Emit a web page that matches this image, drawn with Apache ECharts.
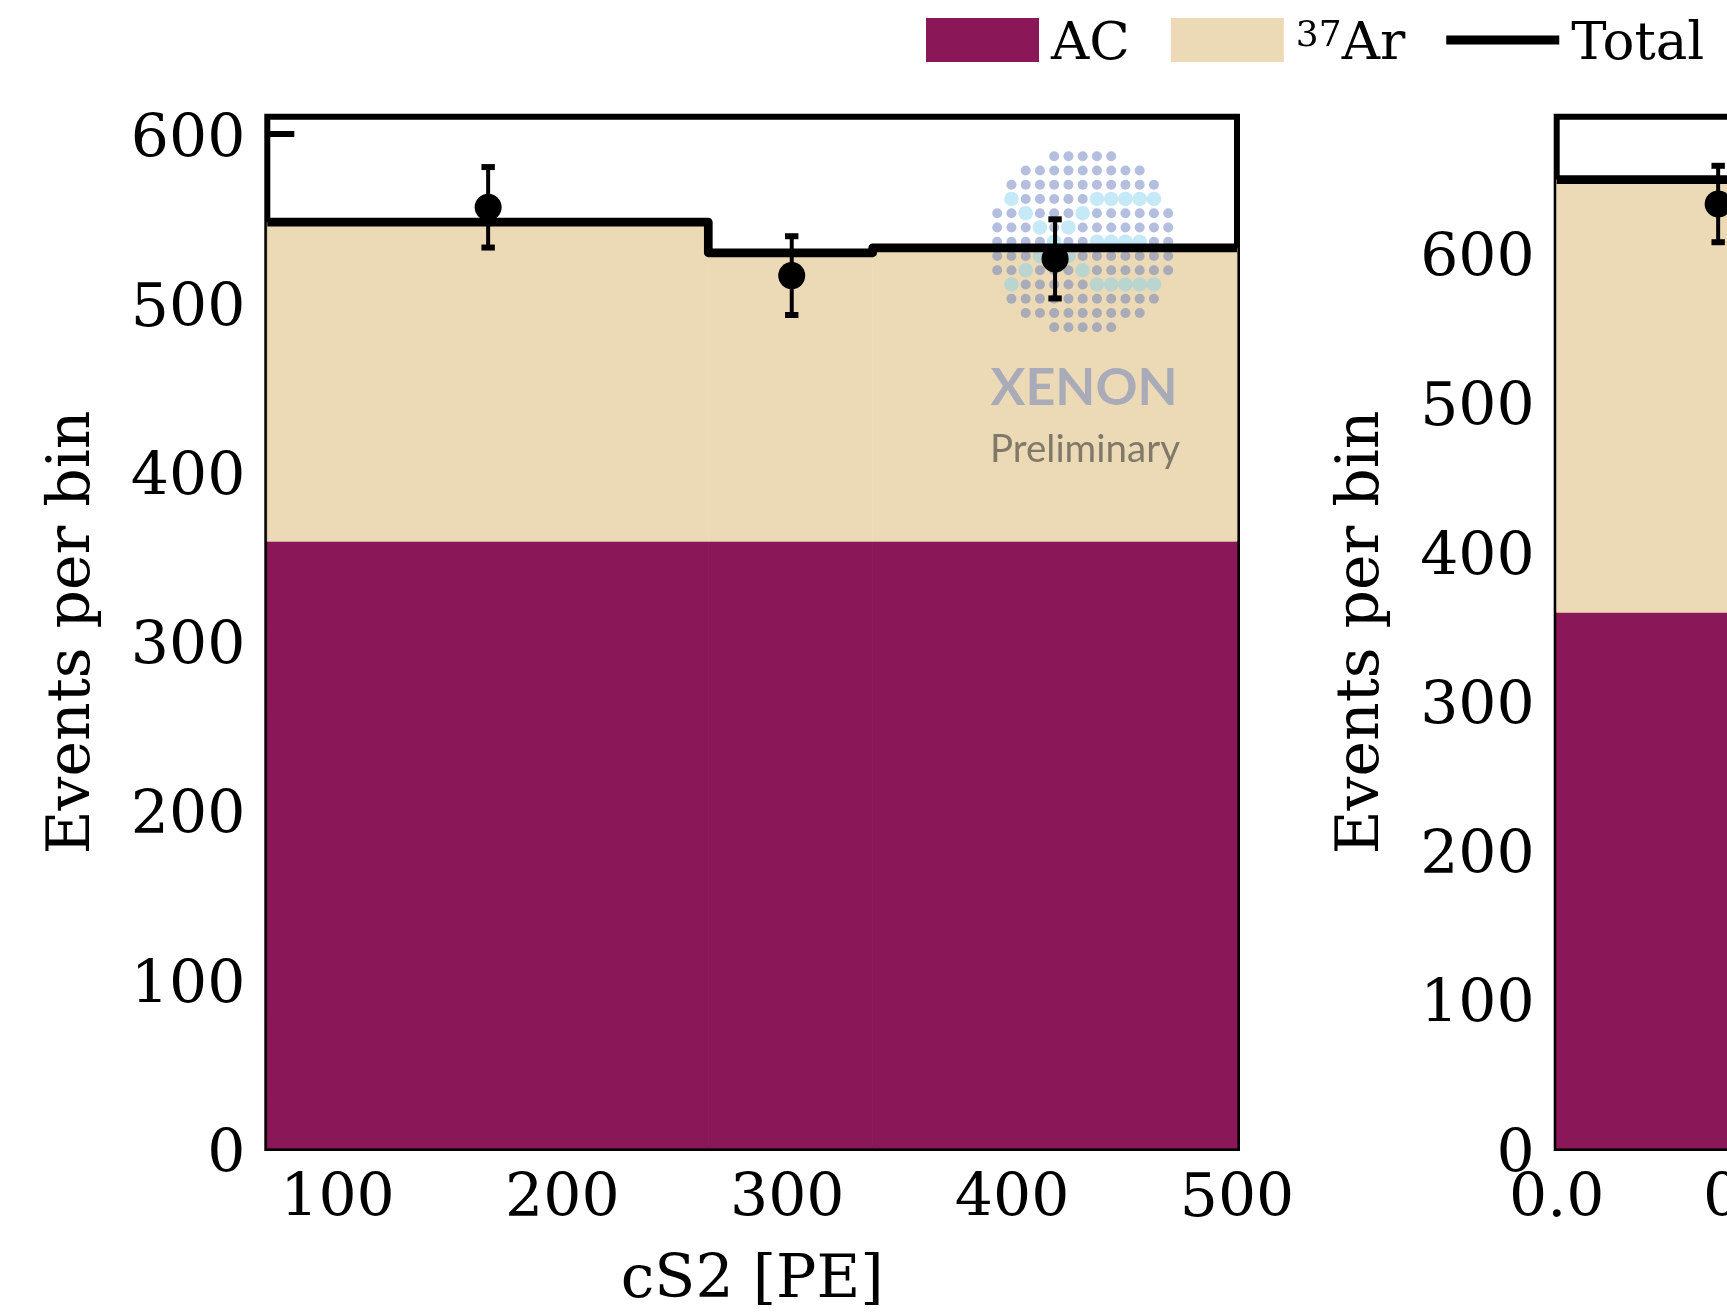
<!DOCTYPE html>
<html><head><meta charset="utf-8">
<script src="https://cdn.jsdelivr.net/npm/echarts@6/dist/echarts.min.js"></script>
<style>html,body{margin:0;padding:0;background:#fff}#chart{width:1727px;height:1316px}</style>
</head><body><div id="chart"></div>
<script>
// ---------- left panel: cS2 [PE] ----------
const cs2BinEdges = [68.8, 264.9, 338.0, 500];
const cs2AC       = [358.9, 358.9, 358.9];
const cs2Ar37     = [188.7, 170.6, 173.5];
const cs2DataX    = [167.0, 302.0, 419.1];
const cs2DataY    = [556.4, 516.0, 525.9];
const cs2DataErr  = [23.8, 23.3, 23.4];
const cs2TickLabels = [100, 200, 300, 400, 500];
const cs2CountMax = 610;

// ---------- right panel (cut off) ----------
const rBinEdges = [0.0, 0.333];
const rAC       = [358.9];
const rAr37     = [289.9];
const rDataX    = [0.1665];
const rDataY    = [632.5];
const rDataErr  = [25.6];
const rTickLabels = [0.0, 0.2, 0.4, 0.6, 0.8, 1.0];
const rCountMax = 691;

const countTickLabels = [0, 100, 200, 300, 400, 500, 600];

// ---------- watermark logo pattern ----------
const logoRowCounts = [5, 9, 11, 11, 13, 13, 13, 13, 13, 11, 11, 9, 5];
const logoHighlight = {3: [1, 7, 8, 9, 10, 11], 4: [2, 6], 5: [3, 5], 6: [4, 7, 8, 9, 10], 7: [3, 5], 8: [2, 6], 9: [1, 7, 8, 9, 10, 11]};

const FONT = 'DejaVu Serif';
const AC_COLOR = '#8A1858';
const AR_COLOR = '#ECDAB6';

function rectRender(params, api) {
  const p0 = api.coord([api.value(0), api.value(3)]);
  const p1 = api.coord([api.value(1), api.value(2)]);
  const c = api.visual('color');
  return {type: 'rect', shape: {x: p0[0], y: p0[1], width: p1[0] - p0[0], height: p1[1] - p0[1]},
          style: {fill: c, stroke: c, lineWidth: 0.8}};
}
function errRender(params, api) {
  const x = api.value(0), y = api.value(1), e = api.value(2);
  const t = api.coord([x, y + e]), b = api.coord([x, y - e]);
  const cw = 6.7;
  return {type: 'group', children: [
    {type: 'line', shape: {x1: t[0], y1: t[1], x2: b[0], y2: b[1]}, style: {stroke: '#000', lineWidth: 4}},
    {type: 'line', shape: {x1: t[0] - cw, y1: t[1], x2: t[0] + cw, y2: t[1]}, style: {stroke: '#000', lineWidth: 6}},
    {type: 'line', shape: {x1: b[0] - cw, y1: b[1], x2: b[0] + cw, y2: b[1]}, style: {stroke: '#000', lineWidth: 6}}
  ]};
}

function panelSeries(idx, edges, ac, ar, dx, dy, derr) {
  const acData = ac.map((v, i) => [edges[i], edges[i + 1], 0, v]);
  const arData = ar.map((v, i) => [edges[i], edges[i + 1], ac[i], ac[i] + v]);
  const totals = ac.map((v, i) => v + ar[i]);
  const lineData = totals.map((v, i) => [edges[i], v]);
  lineData.push([edges[edges.length - 1], totals[totals.length - 1]]);
  const pts = dx.map((x, i) => [x, dy[i], derr[i]]);
  return [
    {name: 'AC', type: 'custom', xAxisIndex: idx, yAxisIndex: idx, renderItem: rectRender,
     itemStyle: {color: AC_COLOR}, encode: {x: [0, 1], y: [2, 3]}, data: acData, z: 2},
    {name: '37Ar', type: 'custom', xAxisIndex: idx, yAxisIndex: idx, renderItem: rectRender,
     itemStyle: {color: AR_COLOR}, encode: {x: [0, 1], y: [2, 3]}, data: arData, z: 2},
    {name: 'Total', type: 'line', xAxisIndex: idx, yAxisIndex: idx, step: 'end', symbol: 'none',
     lineStyle: {color: '#000', width: 8.7, join: 'round', cap: 'butt'}, itemStyle: {color: '#000'},
     data: lineData, z: 4},
    {name: 'data_err', type: 'custom', xAxisIndex: idx, yAxisIndex: idx, renderItem: errRender,
     encode: {x: 0, y: 1}, data: pts, z: 5},
    {name: 'data', type: 'scatter', xAxisIndex: idx, yAxisIndex: idx, symbol: 'circle', symbolSize: 27,
     itemStyle: {color: '#000', opacity: 1}, data: pts.map(p => [p[0], p[1]]), z: 6}
  ];
}

function xAxisCfg(idx, min, max, ticks, fmt) {
  return {type: 'value', gridIndex: idx, min: min, max: max,
    axisLine: {show: false}, splitLine: {show: false},
    axisTick: {show: true, inside: true, length: 27, customValues: ticks, lineStyle: {color: '#000', width: 6}},
    axisLabel: {customValues: ticks, margin: 22, fontFamily: FONT, fontSize: 60, color: '#000', formatter: fmt},
    name: idx === 0 ? 'cS2 [PE]' : '', nameLocation: 'middle', nameGap: 103,
    nameTextStyle: {fontFamily: FONT, fontSize: 60, color: '#000'}};
}
function yAxisCfg(idx, max) {
  return {type: 'value', gridIndex: idx, min: 0, max: max,
    axisLine: {show: false}, splitLine: {show: false},
    axisTick: {show: true, inside: true, length: 27, customValues: countTickLabels, lineStyle: {color: '#000', width: 6}},
    axisLabel: {customValues: countTickLabels, margin: 22, verticalAlign: 'top', lineHeight: 16,
                fontFamily: FONT, fontSize: 60, color: '#000'},
    name: 'Events per bin', nameLocation: 'middle', nameRotate: 90, nameGap: 164,
    nameTextStyle: {fontFamily: FONT, fontSize: 60, color: '#000'}};
}

// logo graphic (watermark)
const logoCx = 1082.7, logoCy = 241.7, logoStep = 14.25;
const logoEls = [];
logoRowCounts.forEach((n, r) => {
  const c0 = (13 - n) / 2;
  for (let c = c0; c < c0 + n; c++) {
    const hi = (logoHighlight[r] || []).indexOf(c) >= 0;
    logoEls.push({type: 'circle', z: 3, silent: true,
      shape: {cx: logoCx + (c - 6) * logoStep, cy: logoCy + (r - 6) * logoStep, r: hi ? 7.3 : 5},
      style: {fill: hi ? 'rgba(127,206,237,0.45)' : 'rgba(95,118,188,0.47)'}});
  }
});
logoEls.push({type: 'text', z: 3, silent: true, x: 1084, y: 388,
  style: {text: 'XENON', font: 'bold 52px Lato', fill: 'rgba(95,118,188,0.47)', textAlign: 'center', textVerticalAlign: 'middle'}});
logoEls.push({type: 'text', z: 3, silent: true, x: 1085, y: 450,
  style: {text: 'Preliminary', font: '38.5px Lato', fill: 'rgba(40,40,40,0.55)', textAlign: 'center', textVerticalAlign: 'middle'}});

const chart = echarts.init(document.getElementById('chart'), null, {renderer: 'canvas'});
chart.setOption({
  animation: false,
  backgroundColor: '#fff',
  grid: [
    {left: 267.3, top: 116.7, width: 969.7, height: 1031.3, outerBoundsMode: 'none', show: true, borderColor: '#000', borderWidth: 6, backgroundColor: 'transparent'},
    {left: 1556.7, top: 116.7, width: 969.7, height: 1031.3, outerBoundsMode: 'none', show: true, borderColor: '#000', borderWidth: 6, backgroundColor: 'transparent'}
  ],
  xAxis: [
    xAxisCfg(0, cs2BinEdges[0], cs2BinEdges[cs2BinEdges.length - 1], cs2TickLabels, v => String(v)),
    xAxisCfg(1, 0, 1, rTickLabels, v => v.toFixed(1))
  ],
  yAxis: [yAxisCfg(0, cs2CountMax), yAxisCfg(1, rCountMax)],
  legend: {
    left: 926, top: 18, padding: 0, itemWidth: 113, itemHeight: 44, itemGap: 41, selectedMode: false,
    textStyle: {fontFamily: FONT, fontSize: 53, color: '#000', padding: [11, 0, 0, 7],
      rich: {sup: {fontFamily: FONT, fontSize: 36, lineHeight: 8, verticalAlign: 'top', color: '#000'}}},
    formatter: name => name === '37Ar' ? '{sup|37}Ar' : name,
    data: [
      {name: 'AC', icon: 'rect'},
      {name: '37Ar', icon: 'rect'},
      {name: 'Total', icon: 'path://M0,0 M113,44 M0,17.5 L113,17.5 L113,26.5 L0,26.5 Z', itemStyle: {color: '#000'}}
    ]
  },
  graphic: {elements: logoEls},
  series: [].concat(
    panelSeries(0, cs2BinEdges, cs2AC, cs2Ar37, cs2DataX, cs2DataY, cs2DataErr),
    panelSeries(1, rBinEdges, rAC, rAr37, rDataX, rDataY, rDataErr)
  )
});
</script></body></html>
